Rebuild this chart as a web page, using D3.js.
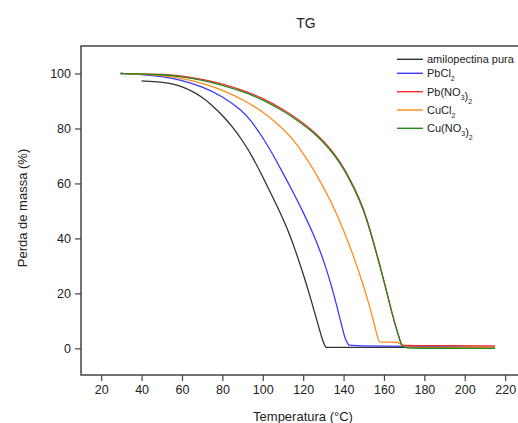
<!DOCTYPE html>
<html>
<head>
<meta charset="utf-8">
<script src="https://cdn.jsdelivr.net/npm/d3@7"></script>
<style>
  body { margin: 0; background: #fff; }
  svg text { font-family: "Liberation Sans", Arial, sans-serif; fill: #222; }
</style>
</head>
<body>
<svg id="chart" width="518" height="423"></svg>
<script>
// temperature (°C) / mass (%)
var amiloT = [40, 40, 50, 55, 60, 65, 70, 75, 80, 85, 90, 95, 100, 105, 110, 113, 116.2, 120.3, 124, 127, 129.5, 130.6, 131.3, 131.3, 131.3, 150, 215, 215];
var amiloV = [97.3, 97.3, 96.9, 96.3, 95.2, 93.6, 91.4, 88.4, 84.8, 80.6, 75.6, 69.6, 62.4, 54.9, 47.2, 42, 35.5, 26.5, 17.4, 9.6, 3.1, 1.1, 0.35, 0.35, 0.35, 0.35, 0.35, 0.35];

var pbcl2T = [29.6, 29.6, 40, 50, 60, 70, 80, 90, 93.9, 100, 105, 110, 115, 120, 125, 128, 131, 134, 137, 139.5, 141, 142.6, 142.6, 142.6, 146, 170, 215, 215];
var pbcl2V = [100, 100, 99.7, 99, 97.6, 95.2, 91.8, 86.3, 83.1, 76.8, 70.5, 63.8, 56.8, 49.6, 41.6, 36.2, 30, 22.8, 14.5, 7, 2.8, 1.2, 1.2, 1.2, 0.9, 0.7, 0.4, 0.4];

var pbno3T = [29.6, 29.6, 40, 50, 60, 70, 80, 90, 100, 110, 120, 125, 130, 135, 140, 145, 150, 155, 160, 164, 167, 168.6, 168.6, 172, 215, 215];
var pbno3V = [100, 100, 99.9, 99.7, 99.1, 97.9, 96.2, 94, 91, 87.1, 82, 79, 75.5, 71.3, 66, 59, 51, 38.5, 24.7, 12.6, 5, 1.2, 1.2, 1.0, 0.9, 0.9];

var cucl2T = [29.6, 29.6, 40, 50, 60, 70, 80, 90, 100, 110, 115, 120, 125, 130, 135, 140, 145, 150, 153, 155.5, 157, 157.8, 157.8, 166.8, 166.8, 169, 171, 171, 215, 215];
var cucl2V = [100, 100, 99.9, 99.3, 98.2, 96.5, 94, 90.6, 86.2, 80, 76, 71, 65.2, 58.7, 51.5, 43.1, 33.5, 22.6, 15, 8, 3.4, 2.3, 2.3, 2.2, 2.2, 1.0, 0.4, 0.4, 0.3, 0.3];

var cuno3T = [29.6, 29.6, 40, 50, 60, 70, 80, 90, 100, 110, 120, 125, 130, 135, 140, 145, 150, 155, 160, 164, 167, 168.6, 169.5, 172, 172, 215, 215];
var cuno3V = [100, 100, 99.9, 99.6, 98.9, 97.6, 95.8, 93.5, 90.5, 86.5, 81.5, 78.5, 75, 70.8, 65.5, 58.5, 50.5, 38, 24.5, 12.5, 5, 1.4, 0.6, 0.05, 0.05, 0, 0];

var seriesNames = ["amilopectina pura", "PbCl2", "Pb(NO3)2", "CuCl2", "Cu(NO3)2"];
var seriesColors = ["#333333", "#3a3aff", "#ff2a2a", "#ff8c1a", "#1f8a1f"];
var xTicks = [20, 40, 60, 80, 100, 120, 140, 160, 180, 200, 220];
var yTicks = [0, 20, 40, 60, 80, 100];

var svg = d3.select("#chart");
var x = d3.scaleLinear().domain([10, 232]).range([81, 529.4]);
var y = d3.scaleLinear().domain([-9.7, 110]).range([375, 46]);

function toPts(ts, vs) { return ts.map(function (t, i) { return [t, vs[i]]; }); }
var series = [
    toPts(amiloT, amiloV),
    toPts(pbcl2T, pbcl2V),
    toPts(pbno3T, pbno3V),
    toPts(cucl2T, cucl2V),
    toPts(cuno3T, cuno3V)
];

// frame
svg.append("rect")
    .attr("x", 81).attr("y", 46)
    .attr("width", 460).attr("height", 329)
    .attr("fill", "none")
    .attr("stroke", "#444")
    .attr("stroke-width", 1.5);

// axes
var xAxis = svg.append("g").attr("transform", "translate(0,375)")
    .call(d3.axisBottom(x).tickValues(xTicks).tickSize(6).tickPadding(4));
var yAxis = svg.append("g").attr("transform", "translate(81,0)")
    .call(d3.axisLeft(y).tickValues(yTicks).tickSize(6).tickPadding(4));
[xAxis, yAxis].forEach(function (g) {
    g.select(".domain").remove();
    g.selectAll("line").attr("stroke", "#444").attr("stroke-width", 1.2);
    g.selectAll("text").attr("font-size", "12.5px").style("font-family", "'Liberation Sans', Arial, sans-serif").attr("fill", "#222");
});

var line = d3.line()
    .x(function (d) { return x(d[0]); })
    .y(function (d) { return y(d[1]); })
    .curve(d3.curveBasis);

svg.append("g")
    .selectAll("path")
    .data(series)
    .join("path")
    .attr("d", line)
    .attr("fill", "none")
    .attr("stroke", function (d, i) { return seriesColors[i]; })
    .attr("stroke-width", 1.3);

// titles
svg.append("text").attr("x", 306).attr("y", 28)
    .attr("text-anchor", "middle").attr("font-size", "14px").text("TG");
svg.append("text").attr("x", 303).attr("y", 421)
    .attr("text-anchor", "middle").attr("font-size", "13px").text("Temperatura (°C)");
svg.append("text")
    .attr("transform", "translate(27,208) rotate(-90)")
    .attr("text-anchor", "middle").attr("font-size", "13px").text("Perda de massa (%)");

// legend
var legendY = [59.3, 73.3, 91.7, 110, 128.3];
var legend = svg.append("g")
    .selectAll("g")
    .data(seriesNames)
    .join("g")
    .attr("transform", function (d, i) { return "translate(397," + legendY[i] + ")"; });

legend.append("line")
    .attr("x1", 0).attr("x2", 26)
    .attr("stroke", function (d, i) { return seriesColors[i]; })
    .attr("stroke-width", 1.4);

legend.append("text")
    .attr("x", 30).attr("y", 4)
    .attr("font-size", "11px")
    .each(function (d) {
        var t = d3.select(this);
        // split name into plain parts and digit subscripts
        var parts = d.match(/[^0-9]+|[0-9]+/g);
        parts.forEach(function (p) {
            if (/^[0-9]+$/.test(p)) {
                t.append("tspan").attr("dy", 4).attr("font-size", "7px").text(p);
                t.append("tspan").attr("dy", -4).text("");
            } else {
                t.append("tspan").text(p);
            }
        });
    });
</script>
</body>
</html>
